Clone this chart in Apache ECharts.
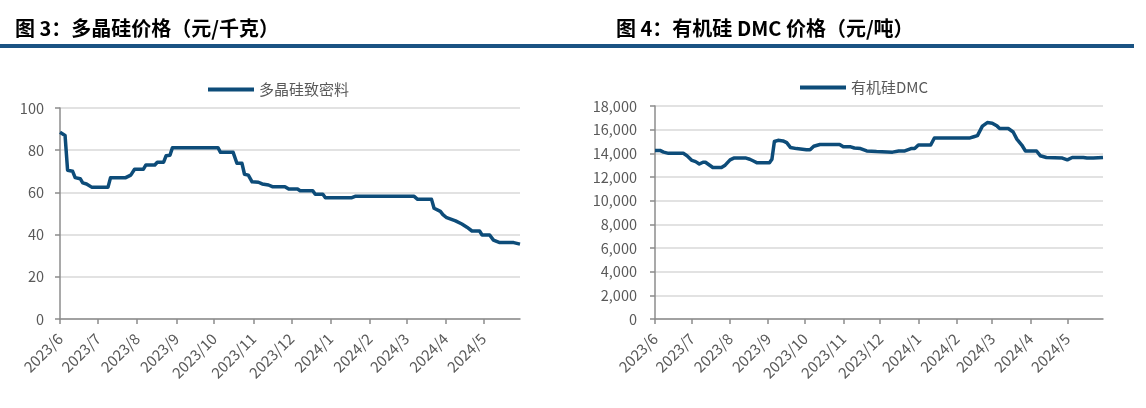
<!DOCTYPE html>
<html>
<head>
<meta charset="utf-8">
<script src="https://cdn.jsdelivr.net/npm/echarts@6/dist/echarts.min.js"></script>
<style>
html,body{margin:0;padding:0;background:#fff;}
#c{width:1146px;height:408px;}
</style>
</head>
<body>
<div id="c"></div>
<script>
// ---- data ----
var title1 = '图 3：多晶硅价格（元/千克）';
var title2 = '图 4：有机硅 DMC 价格（元/吨）';
var polyName = '多晶硅致密料';
var dmcName = '有机硅DMC';

var polyDates = ['2023-06-01','2023-06-05','2023-06-07','2023-06-11','2023-06-13','2023-06-17','2023-06-19','2023-06-22','2023-06-26','2023-07-09','2023-07-11','2023-07-23','2023-07-27','2023-07-30','2023-08-06','2023-08-08','2023-08-15','2023-08-17','2023-08-22','2023-08-24','2023-08-27','2023-08-29','2023-10-04','2023-10-06','2023-10-16','2023-10-19','2023-10-23','2023-10-25','2023-10-28','2023-10-31','2023-11-05','2023-11-08','2023-11-13','2023-11-16','2023-11-26','2023-11-29','2023-12-06','2023-12-08','2023-12-18','2023-12-20','2023-12-26','2023-12-28','2024-01-18','2024-01-21','2024-03-07','2024-03-10','2024-03-21','2024-03-23','2024-03-28','2024-03-30','2024-04-02','2024-04-09','2024-04-14','2024-04-18','2024-04-22','2024-04-28','2024-04-30','2024-05-06','2024-05-09','2024-05-14','2024-05-25','2024-05-30'];
var polyValues = [88.5,87,70.5,70,67,66.5,64.5,64,62.5,62.5,67,67,68.2,71,71,73,73,74.3,74.3,77.4,77.6,81.2,81.2,79,79,73.8,73.8,68.6,68.2,65,64.8,64,63.5,62.7,62.7,61.6,61.6,60.8,60.8,59.1,59.1,57.5,57.5,58.2,58.2,56.7,56.7,52.5,51,49.5,48,46.5,45,43.5,41.7,41.7,39.8,39.8,37.4,36.2,36.2,35.5];

var dmcDates = ['2023-06-01','2023-06-05','2023-06-08','2023-06-12','2023-06-24','2023-06-27','2023-07-01','2023-07-04','2023-07-07','2023-07-10','2023-07-12','2023-07-16','2023-07-18','2023-07-25','2023-07-28','2023-08-01','2023-08-04','2023-08-14','2023-08-17','2023-08-20','2023-08-23','2023-09-02','2023-09-04','2023-09-06','2023-09-09','2023-09-13','2023-09-16','2023-09-19','2023-09-24','2023-10-02','2023-10-05','2023-10-08','2023-10-13','2023-10-29','2023-11-01','2023-11-07','2023-11-10','2023-11-15','2023-11-20','2023-11-28','2023-12-11','2023-12-16','2023-12-21','2023-12-26','2023-12-29','2024-01-01','2024-01-11','2024-01-14','2024-02-12','2024-02-15','2024-02-18','2024-02-22','2024-02-26','2024-03-01','2024-03-05','2024-03-07','2024-03-14','2024-03-18','2024-03-21','2024-03-25','2024-03-28','2024-04-06','2024-04-09','2024-04-14','2024-04-27','2024-05-01','2024-05-05','2024-05-14','2024-05-17','2024-05-22','2024-05-30'];
var dmcValues = [14250,14250,14100,14000,14000,13800,13400,13300,13100,13250,13250,12950,12800,12800,13000,13450,13600,13600,13500,13350,13200,13200,13500,15000,15100,15050,14900,14500,14400,14300,14300,14600,14750,14750,14550,14550,14450,14400,14200,14150,14100,14200,14200,14400,14400,14700,14700,15300,15300,15400,15500,16300,16600,16550,16300,16100,16100,15800,15200,14700,14200,14200,13800,13650,13600,13450,13650,13650,13600,13600,13650];

var axisStart = '2023-06-01', axisEnd = '2024-05-30';
var polyTicks = [0,20,40,60,80,100];
var dmcTicks = [0,2000,4000,6000,8000,10000,12000,14000,16000,18000];

// ---- build daily categories ----
function pad(n){return (n<10?'0':'')+n;}
var categories = [];
(function(){
  var s = axisStart.split('-'), e = axisEnd.split('-');
  var d = new Date(Date.UTC(+s[0], +s[1]-1, +s[2]));
  var end = new Date(Date.UTC(+e[0], +e[1]-1, +e[2]));
  while (d <= end) {
    categories.push(d.getUTCFullYear()+'-'+pad(d.getUTCMonth()+1)+'-'+pad(d.getUTCDate()));
    d = new Date(d.getTime()+86400000);
  }
})();
function pairs(dates, vals){
  return dates.map(function(dt,i){ return [categories.indexOf(dt), vals[i]]; });
}
function isMonthStart(idx, val){ return /-01$/.test(val); }
function monthLabel(val){ var p = val.split('-'); return p[0]+'/'+(+p[1]); }

var FONT = '"Noto Sans CJK SC","Noto Sans",sans-serif';
var LINE = '#0D4C79';
var AXIS = '#8c8c8c';
var LABEL = '#595959';

function xAxisCfg(gi){
  return {
    type:'category', gridIndex:gi, data:categories, boundaryGap:false,
    axisLine:{show:true, lineStyle:{color:AXIS, width:1.5}},
    axisTick:{show:true, interval:isMonthStart, length:5, inside:false, lineStyle:{color:AXIS, width:1.5}},
    axisLabel:{interval:isMonthStart, formatter:monthLabel, rotate:45, margin:17, color:LABEL, fontSize:15, fontFamily:FONT},
    splitLine:{show:false}
  };
}
function yAxisCfg(gi, ticks, margin, fmt){
  return {
    type:'value', gridIndex:gi, min:ticks[0], max:ticks[ticks.length-1], interval:ticks[1]-ticks[0],
    axisLine:{show:true, lineStyle:{color:AXIS, width:1.5}},
    axisTick:{show:true, length:5, lineStyle:{color:AXIS, width:1.5}},
    axisLabel:{margin:margin, color:LABEL, fontSize:14.5, fontFamily:FONT, formatter:fmt},
    splitLine:{show:true, lineStyle:{color:'#d9d9d9', width:1.5}}
  };
}

var chart = echarts.init(document.getElementById('c'), null, {renderer:'canvas'});
chart.setOption({
  animation:false,
  backgroundColor:'#fff',
  title:[
    {text:title1, left:10, top:13, textStyle:{fontSize:20, fontWeight:'bold', color:'#000', fontFamily:FONT}},
    {text:title2, left:611, top:13, textStyle:{fontSize:20, fontWeight:'bold', color:'#000', fontFamily:FONT}}
  ],
  graphic:[
    {type:'rect', shape:{x:0, y:44, width:1134, height:4}, style:{fill:'#1A5383'}, silent:true}
  ],
  legend:[
    {data:[{name:polyName, icon:'rect'}], left:203, top:77, itemWidth:46, itemHeight:4, itemGap:5,
     textStyle:{color:LABEL, fontSize:15, fontFamily:FONT}},
    {data:[{name:dmcName, icon:'rect'}], left:795, top:75, itemWidth:46, itemHeight:4, itemGap:5,
     textStyle:{color:LABEL, fontSize:15, fontFamily:FONT}}
  ],
  grid:[
    {left:60, top:108, width:460, height:211, containLabel:false},
    {left:655, top:106, width:448, height:213, containLabel:false}
  ],
  xAxis:[xAxisCfg(0), xAxisCfg(1)],
  yAxis:[
    yAxisCfg(0, polyTicks, 16, function(v){return String(v);}),
    yAxisCfg(1, dmcTicks, 18, function(v){return v.toLocaleString('en-US');})
  ],
  series:[
    {name:polyName, type:'line', xAxisIndex:0, yAxisIndex:0, data:pairs(polyDates, polyValues),
     showSymbol:false, symbol:'none', lineStyle:{color:LINE, width:3.5, join:'round'}, itemStyle:{color:LINE}},
    {name:dmcName, type:'line', xAxisIndex:1, yAxisIndex:1, data:pairs(dmcDates, dmcValues),
     showSymbol:false, symbol:'none', lineStyle:{color:LINE, width:3.5, join:'round'}, itemStyle:{color:LINE}}
  ]
});
</script>
</body>
</html>
